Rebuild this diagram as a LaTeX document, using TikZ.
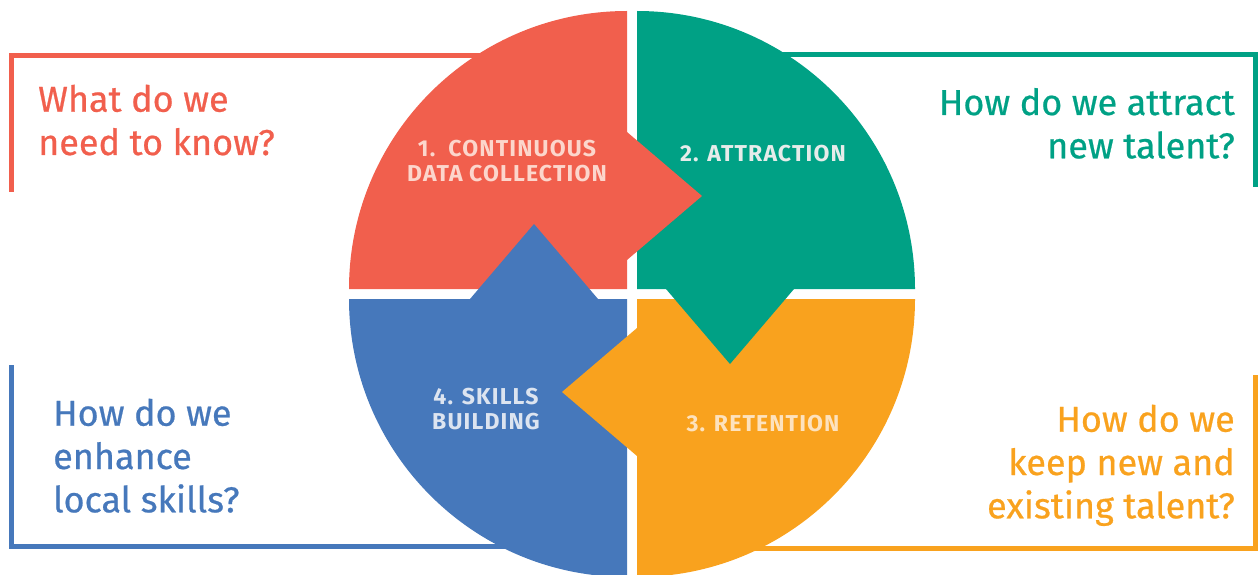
\documentclass[tikz,border=0pt]{standalone}
\usepackage{fontspec}
\setmainfont{Fira Sans}
\newfontfamily\askfont[FakeBold=0.6]{Fira Sans}
\newfontfamily\steplabelfont[LetterSpace=5]{Fira Sans}

\definecolor{datared}{RGB}{241,95,77}
\definecolor{attractgreen}{RGB}{0,161,133}
\definecolor{keeporange}{RGB}{249,162,30}
\definecolor{skillblue}{RGB}{70,120,187}
\definecolor{datatint}{RGB}{252,214,204}
\definecolor{attracttint}{RGB}{230,236,234}
\definecolor{keeptint}{RGB}{253,226,190}
\definecolor{skilltint}{RGB}{220,228,240}

\tikzset{
  frameline/.style={line width=5pt},
  question/.style={inner sep=0pt, font=\askfont\fontsize{36}{43.3}\selectfont},
  quadlabel/.style={inner sep=0pt, align=center, anchor=base,
    font=\steplabelfont\bfseries\fontsize{23}{25}\selectfont}
}

\begin{document}
\begin{tikzpicture}[x=1pt,y=1pt]
   \useasboundingbox (0,0) rectangle (1258,574);

   % frames round the questions
   \draw[frameline,datared] (11.5,382) |- (560,518);
   \draw[frameline,attractgreen] (700,519.5) -| (1255.3,387);
   \draw[frameline,skillblue] (11.5,209) |- (560,27.3);
   \draw[frameline,keeporange] (700,26) -| (1255.3,199);

   % quarters of the wheel
   \fill[datared] (627,285) -- (349,285) arc[start angle=180,end angle=90,radius=278] -- cycle;
   \fill[attractgreen] (637,285) -- (637,563) arc[start angle=90,end angle=0,radius=278] -- cycle;
   \fill[keeporange] (637,275) -- (915,275) arc[start angle=0,end angle=-90,radius=278] -- cycle;
   \fill[skillblue] (627,275) -- (627,-3) arc[start angle=270,end angle=180,radius=278] -- cycle;

   % arrow heads
   \fill[datared] (627,442) -- (702,378) -- (627,314) -- cycle;
   \fill[attractgreen] (666,285) -- (730,210) -- (794,285) -- cycle;
   \fill[keeporange] (637,246) -- (562,182) -- (637,118) -- cycle;
   \fill[skillblue] (598,275) -- (534,350) -- (470,275) -- cycle;

   % step labels (base = last line)
   \node[quadlabel,text=datatint] (collect) at (507,392.3) {1.\ \ CONTINUOUS\\DATA COLLECTION};
   \node[quadlabel,text=attracttint] (attract) at (763,412.3) {2. ATTRACTION};
   \node[quadlabel,text=keeptint] (retain) at (763,142.3) {3. RETENTION};
   \node[quadlabel,text=skilltint] (skills) at (486,144.7) {4. SKILLS\\BUILDING};

   % questions
   \node[question,text=datared,align=left,anchor=base west] (qknow) at (38,419) {What do we\\need to know?};
   \node[question,text=attractgreen,align=right,anchor=base east] (qattract) at (1235,415.7) {How do we attract\\new talent?};
   \node[question,text=skillblue,align=left,anchor=base west] (qskills) at (53,61.7) {How do we\\enhance\\local skills?};
   \node[question,text=keeporange,align=right,anchor=base east] (qkeep) at (1235,55.7) {How do we\\keep new and\\existing talent?};
\end{tikzpicture}
\end{document}
